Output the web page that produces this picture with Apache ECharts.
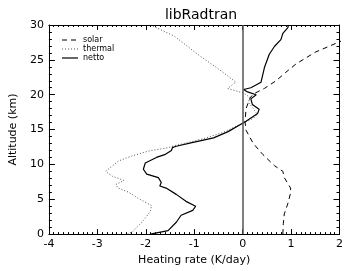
<!DOCTYPE html>
<html><head><meta charset="utf-8">
<script src="https://cdn.jsdelivr.net/npm/echarts@6/dist/echarts.min.js"></script>
<style>html,body{margin:0;padding:0;background:#fff}#c{width:346px;height:271px}</style>
</head><body><div id="c"></div>
<script>
const xTicks = [-4, -3, -2, -1, 0, 1, 2];
const yTicks = [0, 5, 10, 15, 20, 25, 30];
const legendNames = ['solar', 'thermal', 'netto'];

const solarAlt = [0, 1.5, 2.9, 4.3, 5.9, 6.6, 8.1, 9.0, 9.8, 11.4, 13.0, 14.9, 16.1, 18.0, 19.5, 20.1, 20.9, 22.0, 23.2, 24.4, 26.1, 27.5, 30];
const solarRate = [0.83, 0.84, 0.86, 0.93, 0.99, 0.99, 0.86, 0.83, 0.66, 0.42, 0.22, 0.07, 0.05, 0.07, 0.15, 0.22, 0.45, 0.69, 0.89, 1.1, 1.5, 1.97, 2.8];

const thermalAlt = [0, 0.3, 1.7, 3.2, 4.1, 5.1, 6.0, 6.6, 7.1, 7.7, 8.3, 9.0, 10.5, 11.2, 11.9, 12.4, 12.7, 13.1, 13.7, 14.6, 15.9, 16.6, 17.2, 18.0, 18.9, 19.6, 20.2, 20.9, 21.8, 23.7, 25.8, 28.4, 30];
const thermalRate = [-2.38, -2.28, -2.08, -1.91, -1.88, -2.15, -2.35, -2.57, -2.62, -2.45, -2.69, -2.83, -2.56, -2.29, -1.95, -1.54, -1.4, -1.15, -0.8, -0.4, 0.0, 0.22, 0.3, 0.22, 0.12, 0.15, 0.03, -0.31, -0.14, -0.5, -0.93, -1.41, -1.9];

const nettoAlt = [0, 0.15, 0.5, 1.7, 2.7, 3.4, 4.0, 4.7, 5.7, 6.6, 6.9, 7.4, 8.1, 8.6, 9.3, 10.2, 11.0, 11.4, 12.0, 12.4, 12.6, 13.2, 13.8, 14.7, 15.9, 16.2, 17.3, 17.9, 18.6, 19.4, 20.0, 20.4, 20.75, 21.0, 21.8, 22.7, 23.9, 25.8, 26.95, 27.9, 28.8, 29.6, 30];
const nettoRate = [-1.9, -1.8, -1.54, -1.37, -1.27, -1.03, -0.97, -1.17, -1.37, -1.58, -1.71, -1.68, -1.74, -1.98, -2.05, -2.01, -1.78, -1.61, -1.47, -1.45, -1.37, -1.0, -0.6, -0.3, 0.0, 0.07, 0.31, 0.34, 0.2, 0.17, 0.28, 0.1, 0.02, 0.17, 0.38, 0.41, 0.45, 0.55, 0.66, 0.79, 0.83, 0.93, 0.95];

const pairs = (xs, ys) => xs.map((v, i) => [v, ys[i]]);
const FONT = 'DejaVu Sans';
const styles = {
  solar: {color: '#000', width: 1, type: [5, 4]},
  thermal: {color: '#555', width: 1, type: [1, 2]},
  netto: {color: '#000', width: 1.2, type: 'solid'}
};

const legendGraphic = [];
legendNames.forEach((n, i) => {
  const y = 40 + i * 9;
  legendGraphic.push({type: 'line', shape: {x1: 62, y1: y, x2: 78, y2: y},
    style: {stroke: styles[n].color, lineWidth: styles[n].width, lineDash: styles[n].type === 'solid' ? null : styles[n].type}});
  legendGraphic.push({type: 'text', x: 83, y: y, style: {text: n, font: '8px ' + FONT, fill: '#000', verticalAlign: 'middle'}});
});

const chart = echarts.init(document.getElementById('c'), null, {renderer: 'canvas'});
const minorX = {show: true, splitNumber: 10, length: 2, lineStyle: {color: '#000', width: 1}};
const minorY = {show: true, splitNumber: 5, length: 3, lineStyle: {color: '#000', width: 1}};
chart.setOption({
  animation: false,
  textStyle: {fontFamily: FONT},
  title: {text: 'libRadtran', left: 196, textAlign: 'center', top: 3,
    textStyle: {fontFamily: FONT, fontSize: 14, fontWeight: 'normal', color: '#000'}},
  graphic: legendGraphic,
  grid: {left: 47, right: 1, top: 25, bottom: 34, containLabel: false},
  xAxis: [
    {type: 'value', min: xTicks[0], max: xTicks[xTicks.length-1], interval: 1, position: 'bottom',
     name: 'Heating rate (K/day)', nameLocation: 'middle', nameGap: 19,
     nameTextStyle: {fontFamily: FONT, fontSize: 11, color: '#000'},
     axisLine: {onZero: false, lineStyle: {color: '#000', width: 1}},
     axisTick: {inside: true, length: 5, lineStyle: {color: '#000'}},
     minorTick: minorX,
     axisLabel: {fontFamily: FONT, fontSize: 11, color: '#000', margin: 5},
     splitLine: {show: false}},
    {type: 'value', min: xTicks[0], max: xTicks[xTicks.length-1], interval: 1, position: 'top',
     axisLine: {onZero: false, lineStyle: {color: '#000', width: 1}},
     axisTick: {inside: true, length: 5, lineStyle: {color: '#000'}},
     minorTick: minorX, axisLabel: {show: false}, splitLine: {show: false}}
  ],
  yAxis: [
    {type: 'value', min: yTicks[0], max: yTicks[yTicks.length-1], interval: 5, position: 'left',
     name: 'Altitude (km)', nameLocation: 'middle', nameGap: 24,
     nameTextStyle: {fontFamily: FONT, fontSize: 11, color: '#000'},
     axisLine: {onZero: false, lineStyle: {color: '#000', width: 1}},
     axisTick: {inside: true, length: 6, lineStyle: {color: '#000'}},
     minorTick: minorY,
     axisLabel: {fontFamily: FONT, fontSize: 11, color: '#000', margin: 5},
     splitLine: {show: false}},
    {type: 'value', min: yTicks[0], max: yTicks[yTicks.length-1], interval: 5, position: 'right',
     axisLine: {onZero: false, lineStyle: {color: '#000', width: 1}},
     axisTick: {inside: true, length: 6, lineStyle: {color: '#000'}},
     minorTick: minorY, axisLabel: {show: false}, splitLine: {show: false}}
  ],
  series: [
    {name: 'solar', type: 'line', data: pairs(solarRate, solarAlt), symbol: 'none', clip: true,
     lineStyle: styles.solar, itemStyle: {color: '#000'},
     markLine: {silent: true, symbol: 'none', label: {show: false},
       lineStyle: {color: '#555', width: 1.5, type: 'solid'}, data: [{xAxis: 0}]}},
    {name: 'thermal', type: 'line', data: pairs(thermalRate, thermalAlt), symbol: 'none', clip: true,
     lineStyle: styles.thermal, itemStyle: {color: '#555'}},
    {name: 'netto', type: 'line', data: pairs(nettoRate, nettoAlt), symbol: 'none', clip: true,
     lineStyle: styles.netto, itemStyle: {color: '#000'}}
  ]
});
</script></body></html>
